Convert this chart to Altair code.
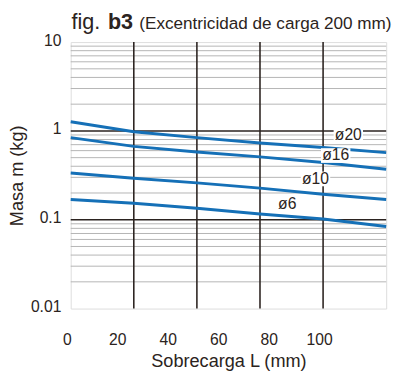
import altair as alt
import pandas as pd

# ---- data ----
x_pts = [0, 25, 50, 75, 100, 125]
m_d20 = [1.27, 0.98, 0.84, 0.73, 0.65, 0.57]
m_d16 = [0.84, 0.67, 0.58, 0.51, 0.44, 0.37]
m_d10 = [0.336, 0.293, 0.26, 0.227, 0.194, 0.169]
m_d6 = [0.169, 0.153, 0.135, 0.116, 0.102, 0.084]

series_names = ["ø20", "ø16", "ø10", "ø6"]
label_x = [110.0, 105.0, 97.0, 85.8]
label_y = [0.888, 0.528, 0.288, 0.149]

x_tick_values = [0, 20, 40, 60, 80, 100]
y_tick_values = [0.01, 0.1, 1, 10]
grid_x = [25, 50, 75, 100]
major_y = [0.1, 1]
minor_y = [0.02, 0.03, 0.04, 0.05, 0.06, 0.07, 0.08, 0.09,
           0.2, 0.3, 0.4, 0.5, 0.6, 0.7, 0.8, 0.9,
           2, 3, 4, 5, 6, 7, 8, 9]

title_parts = ["fig.", "b3", "(Excentricidad de carga 200 mm)"]

# ---- tables ----
rows = []
for name, vals in zip(series_names, [m_d20, m_d16, m_d10, m_d6]):
    for xv, yv in zip(x_pts, vals):
        rows.append({"serie": name, "x": xv, "y": yv})
lines_df = pd.DataFrame(rows)
labels_df = pd.DataFrame({"label": series_names, "x": label_x, "y": label_y})

FONT = "Liberation Sans"
DARK = "#2b2320"
BLUE = "#1570b7"

xs = alt.Scale(domain=[0, 125], nice=False, zero=False)
ys = alt.Scale(type="log", domain=[0.01, 10], nice=False)

xaxis = alt.Axis(values=x_tick_values, grid=False, ticks=False, domain=False,
                 labelFlush=False, labelFontSize=16, labelColor=DARK,
                 labelPadding=24, labelOffset=-4, title="Sobrecarga L (mm)",
                 titleFontSize=18.5, titleFontWeight="normal", titleColor=DARK,
                 titlePadding=4, labelFont=FONT, titleFont=FONT)
yaxis = alt.Axis(values=y_tick_values, format="~g", grid=False, ticks=False,
                 domain=False, labelFlush=False, labelFontSize=16, labelColor=DARK,
                 labelPadding=10, labelOffset=-2, title="Masa m (kg)",
                 titleFontSize=18.5, titleFontWeight="normal", titleColor=DARK,
                 titlePadding=4, labelFont=FONT, titleFont=FONT)

X = alt.X("x:Q", scale=xs, axis=xaxis)
Y = alt.Y("y:Q", scale=ys, axis=yaxis)

minor = alt.Chart(pd.DataFrame({"y": minor_y})).mark_rule(
    color="#b4b4b4", strokeWidth=1).encode(y=Y)
major = alt.Chart(pd.DataFrame({"y": major_y})).mark_rule(
    color=DARK, strokeWidth=1.6).encode(y=Y)
vert = alt.Chart(pd.DataFrame({"x": grid_x})).mark_rule(
    color=DARK, strokeWidth=1.6).encode(x=X)

lines = alt.Chart(lines_df).mark_line(color=BLUE, strokeWidth=3).encode(
    x=X, y=Y, detail="serie:N")

boxes = alt.Chart(labels_df).mark_point(
    shape="M-1,-0.5L1,-0.5L1,0.5L-1,0.5Z", size=900, filled=True,
    fill="white", opacity=1, strokeWidth=0).encode(x=X, y=Y)
texts = alt.Chart(labels_df).mark_text(
    font=FONT, fontSize=16, color=DARK, align="center", baseline="middle").encode(
    x=X, y=Y, text="label:N")

t_df = pd.DataFrame({"t": title_parts})
t1 = alt.Chart(t_df).transform_filter(alt.datum.t == title_parts[0]).mark_text(
    font=FONT, fontSize=22, color=DARK, align="left", baseline="alphabetic").encode(
    x=alt.value(0.7), y=alt.value(-13), text="t:N")
t2 = alt.Chart(t_df).transform_filter(alt.datum.t == title_parts[1]).mark_text(
    font=FONT, fontSize=22, fontWeight="bold", color=DARK, align="left",
    baseline="alphabetic").encode(x=alt.value(38), y=alt.value(-13), text="t:N")
t3 = alt.Chart(t_df).transform_filter(alt.datum.t == title_parts[2]).mark_text(
    font=FONT, fontSize=17.5, color=DARK, align="left", baseline="alphabetic").encode(
    x=alt.value(70), y=alt.value(-13), text="t:N")

chart = alt.layer(minor, major, vert, lines, boxes, texts, t1, t2, t3).properties(
    width=322, height=272,
    padding={"left": 64, "top": 31, "right": 9, "bottom": 63},
    autosize=alt.AutoSizeParams(type="none"),
    background="white",
).configure_view(stroke=DARK, strokeWidth=2).configure(font=FONT)

chart.save("out.html", embed_options={"renderer": "svg", "actions": False})
